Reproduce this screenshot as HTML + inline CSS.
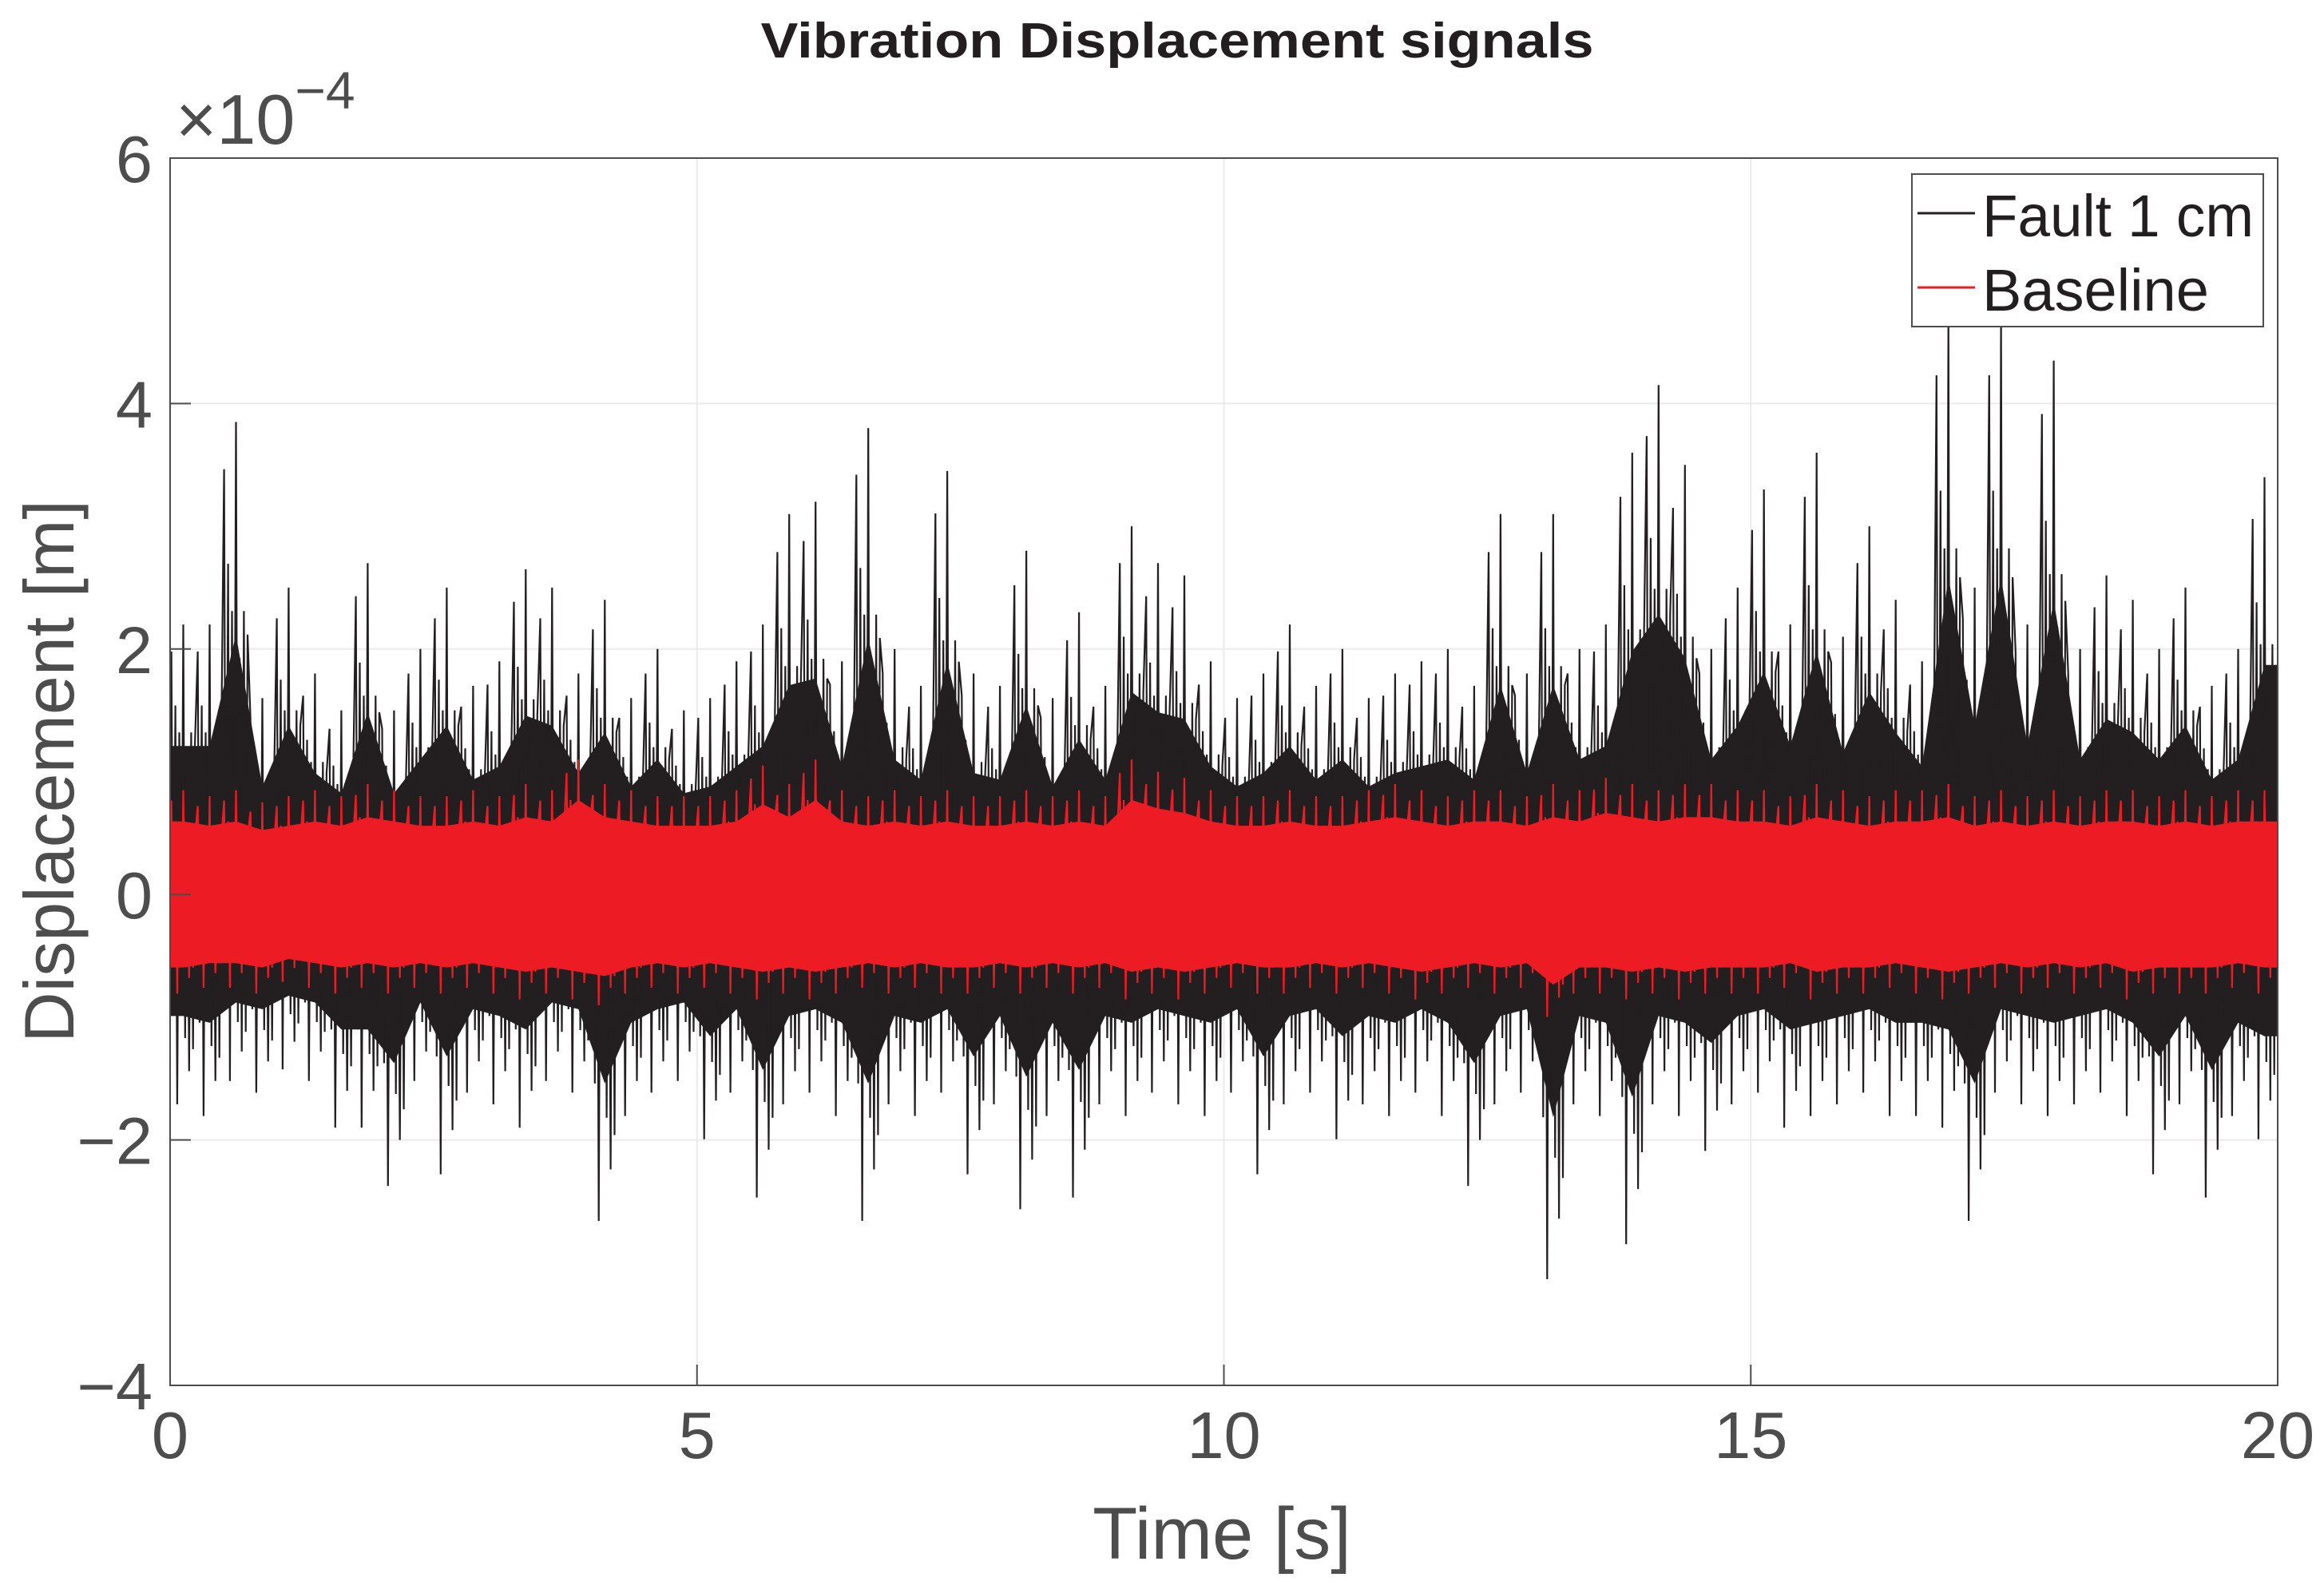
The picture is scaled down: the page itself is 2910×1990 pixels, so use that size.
<!DOCTYPE html>
<html><head><meta charset="utf-8"><style>
html,body{margin:0;padding:0;background:#fff;}
svg{display:block;font-family:"Liberation Sans",Arial,sans-serif;}
</style></head><body>
<svg id="chart" width="2910" height="1990" viewBox="0 0 2910 1990">
<text x="1474" y="72" text-anchor="middle" font-size="62" font-weight="bold" fill="#231f20" textLength="1043" lengthAdjust="spacingAndGlyphs">Vibration Displacement signals</text>
<g id="grid"></g>
<g id="series"></g>
<rect x="213" y="198" width="2639" height="1537" fill="none" stroke="#4d4d4d" stroke-width="2"/>
<g id="ticks"></g>
<text x="220" y="180" font-size="88" fill="#4d4d4d">×10<tspan dy="-44" font-size="66">−4</tspan></text>
<text x="1530" y="1952" text-anchor="middle" font-size="92" fill="#4d4d4d">Time [s]</text>
<text transform="translate(92,966) rotate(-90)" text-anchor="middle" font-size="88" fill="#4d4d4d">Displacement [m]</text>
<g>
<rect x="2394" y="218" width="440" height="191" fill="#fff" stroke="#4d4d4d" stroke-width="2"/>
<line x1="2401" y1="267" x2="2473" y2="267" stroke="#231f20" stroke-width="3"/>
<text x="2482" y="296" font-size="74" fill="#231f20" textLength="340" lengthAdjust="spacingAndGlyphs">Fault 1 cm</text>
<line x1="2401" y1="360" x2="2473" y2="360" stroke="#ed1c24" stroke-width="3"/>
<text x="2482" y="389" font-size="74" fill="#231f20">Baseline</text>
</g>
</svg>
<script>
const xTicks=[0,5,10,15,20];
const yTicks=[-4,-2,0,2,4,6];
const yTickLabels=["−4","−2","0","2","4","6"];
const binWidth=0.25;
const faultHi=[2.2,2.2,3.85,1.6,2.5,1.8,1.5,2.7,1.5,2.0,
2.5,1.7,1.9,2.65,2.5,1.8,2.4,1.6,2.0,1.5,
1.6,1.9,2.2,3.1,3.2,1.9,3.8,2.0,1.7,3.45,
1.8,1.7,2.8,1.6,2.3,1.7,3.0,2.7,2.6,1.9,
1.6,1.8,2.2,1.7,2.0,1.6,1.8,1.9,2.0,1.7,
3.1,1.8,3.1,2.0,2.2,3.6,4.15,3.5,2.0,2.5,
3.3,2.2,3.6,2.1,3.0,2.4,1.9,4.7,2.5,4.7,
2.2,4.35,2.0,2.6,2.4,2.0,2.5,1.7,2.0,3.4];
const faultLo=[-1.8,-1.9,-1.6,-1.7,-1.5,-1.6,-2.0,-2.0,-2.5,-1.6,
-2.4,-1.7,-1.8,-2.0,-1.6,-1.7,-2.8,-1.9,-1.7,-1.6,
-2.1,-1.7,-2.6,-1.8,-1.7,-1.9,-2.8,-1.8,-1.9,-1.7,
-2.4,-1.8,-2.7,-1.9,-2.6,-1.8,-1.9,-1.7,-1.8,-1.9,
-1.7,-2.4,-1.8,-1.7,-2.1,-1.8,-1.9,-1.7,-1.9,-2.5,
-1.8,-1.7,-3.3,-1.8,-1.9,-3.0,-1.8,-1.9,-2.2,-1.8,
-1.7,-2.0,-1.9,-1.8,-1.7,-1.9,-1.9,-2.0,-2.8,-1.7,
-1.8,-1.9,-1.8,-1.7,-1.9,-2.4,-1.8,-2.6,-1.9,-2.1];
const baseHi=[0.85,0.8,0.85,0.75,0.8,0.85,0.8,0.9,0.85,0.8,
0.8,0.85,0.8,0.9,0.85,1.1,0.9,0.85,0.8,0.8,
0.8,0.85,1.05,0.9,1.1,0.85,0.8,0.85,0.8,0.85,
0.8,0.8,0.85,0.8,0.85,0.8,1.1,1.0,0.95,0.85,
0.8,0.8,0.85,0.8,0.8,0.85,0.9,0.85,0.8,0.85,
0.85,0.8,0.9,0.85,0.95,0.9,0.85,0.9,0.9,0.85,
0.85,0.8,0.9,0.85,0.8,0.85,0.85,0.9,0.8,0.85,
0.8,0.85,0.8,0.85,0.85,0.8,0.85,0.8,0.85,0.85];
const baseLo=[-0.85,-0.8,-0.8,-0.85,-0.75,-0.8,-0.85,-0.8,-0.85,-0.8,
-0.85,-0.8,-0.85,-0.9,-0.85,-0.9,-0.95,-0.85,-0.8,-0.85,
-0.8,-0.85,-0.9,-0.85,-0.9,-0.85,-0.8,-0.85,-0.8,-0.85,
-0.85,-0.8,-0.85,-0.8,-0.85,-0.8,-0.9,-0.85,-0.9,-0.85,
-0.8,-0.85,-0.85,-0.8,-0.85,-0.8,-0.85,-0.9,-0.85,-0.8,
-0.85,-0.8,-1.05,-0.85,-0.85,-0.9,-0.85,-0.9,-0.85,-0.85,
-0.85,-0.8,-0.9,-0.85,-0.85,-0.8,-0.85,-0.9,-0.85,-0.8,
-0.85,-0.8,-0.85,-0.8,-0.9,-0.85,-0.85,-0.85,-0.8,-0.85];

const X0=213,X1=2852,Y0=198,Y1=1735;
const xs=t=>X0+(t-0)/(20-0)*(X1-X0);
const ys=v=>Y1-(v-(-4))/(6-(-4))*(Y1-Y0);
const NS='http://www.w3.org/2000/svg';
function mk(tag,parent){const e=document.createElementNS(NS,tag);parent.appendChild(e);return e;}
const grid=document.getElementById('grid'),ticks=document.getElementById('ticks'),series=document.getElementById('series');

xTicks.forEach(t=>{
  const g=mk('line',grid);
  
  
  g.setAttribute('x1',xs(t));g.setAttribute('x2',xs(t));g.setAttribute('y1',Y0);g.setAttribute('y2',Y1);
  g.setAttribute('stroke','#ebebeb');g.setAttribute('stroke-width','2');
  const tk=mk('line',ticks);
  
  
  tk.setAttribute('x1',xs(t));tk.setAttribute('x2',xs(t));tk.setAttribute('y1',Y1);tk.setAttribute('y2',Y1-26);
  tk.setAttribute('stroke','#4d4d4d');tk.setAttribute('stroke-width','2');
  const lb=mk('text',ticks);
  
  
  lb.setAttribute('x',xs(t));lb.setAttribute('y',1826);lb.setAttribute('text-anchor','middle');
  lb.setAttribute('font-size','83');lb.setAttribute('fill','#4d4d4d');lb.textContent=t;
});
yTicks.forEach((v,i)=>{
  const g=mk('line',grid);
  
  
  g.setAttribute('x1',X0);g.setAttribute('x2',X1);g.setAttribute('y1',ys(v));g.setAttribute('y2',ys(v));
  g.setAttribute('stroke','#ebebeb');g.setAttribute('stroke-width','2');
  const tk=mk('line',ticks);
  
  
  tk.setAttribute('x1',X0);tk.setAttribute('x2',X0+26);tk.setAttribute('y1',ys(v));tk.setAttribute('y2',ys(v));
  tk.setAttribute('stroke','#4d4d4d');tk.setAttribute('stroke-width','2');
  const lb=mk('text',ticks);
  
  
  lb.setAttribute('x',191);lb.setAttribute('y',ys(v)+30);lb.setAttribute('text-anchor','end');
  lb.setAttribute('font-size','83');lb.setAttribute('fill','#4d4d4d');lb.textContent=yTickLabels[i];
});

// rendering texture pattern (fractions of envelope), not data
const texture=[[0.05,0.9,0],[0.12,0.55,1],[0.2,0.7,0],[0.27,0.95,1],[0.35,0.6,0],[0.42,0.5,1],[0.5,1.0,0],[0.57,0.65,1],[0.64,0.5,0],[0.72,0.8,1],[0.8,0.6,0],[0.87,0.7,1],[0.94,0.55,0]];
function drawSeries(hi,lo,color,name,coreScale,sw){
  const n=hi.length;
  let pts=[];
  for(let i=0;i<n;i++){pts.push(xs((i+0.5)*binWidth)+','+ys(hi[i]*coreScale));}
  pts.push(xs(20)+','+ys(hi[n-1]*coreScale));
  pts.push(xs(20)+','+ys(lo[n-1]*coreScale));
  for(let i=n-1;i>=0;i--){pts.push(xs((i+0.5)*binWidth)+','+ys(lo[i]*coreScale));}
  pts.push(xs(0)+','+ys(lo[0]*coreScale));
  pts.push(xs(0)+','+ys(hi[0]*coreScale));
  const band=mk('polygon',series);
  
  
  band.setAttribute('points',pts.join(' '));band.setAttribute('fill',color);
  let d='';
  for(let i=0;i<n;i++){
    const t=i*binWidth;
    texture.forEach((s,k)=>{
      const v=s[2]?lo[i]*s[1]:hi[i]*s[1];
      d+=(i===0&&k===0?'M':'L')+xs(t+s[0]*binWidth).toFixed(1)+','+ys(v).toFixed(1)+' ';
    });
  }
  const p=mk('path',series);
  
  
  p.setAttribute('d',d);p.setAttribute('fill','none');p.setAttribute('stroke',color);p.setAttribute('stroke-width',sw);
}
drawSeries(faultHi,faultLo,'#231f20','fault-1cm',0.55,2.2);
drawSeries(baseHi,baseLo,'#ed1c24','baseline',0.7,2.2);
</script>
</body></html>
